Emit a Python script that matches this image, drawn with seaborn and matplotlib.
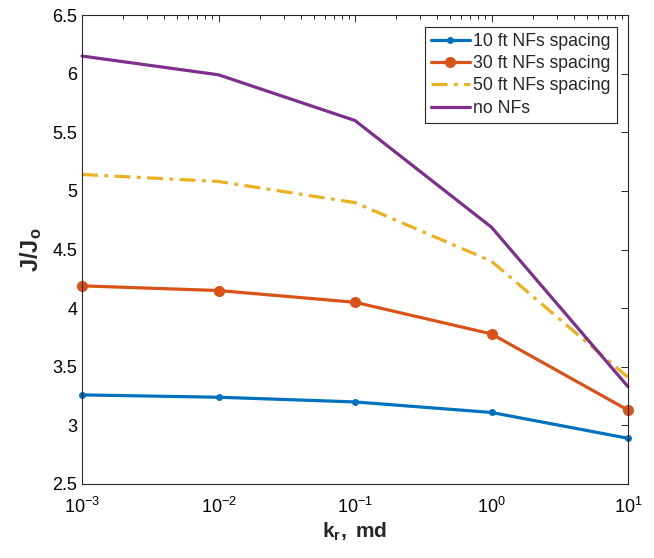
import numpy as np
import pandas as pd
import matplotlib
matplotlib.use("Agg")
import matplotlib.pyplot as plt
import seaborn as sns
from matplotlib.ticker import LogLocator, NullFormatter, FixedLocator

# ---- data ----
kr = [1e-3, 1e-2, 1e-1, 1e0, 1e1]
series_names = ["10 ft NFs spacing", "30 ft NFs spacing", "50 ft NFs spacing", "no NFs"]
ratio_10ft = [3.26, 3.24, 3.20, 3.11, 2.89]
ratio_30ft = [4.19, 4.15, 4.05, 3.78, 3.13]
ratio_50ft = [5.14, 5.08, 4.90, 4.40, 3.41]
ratio_noNF = [6.15, 5.99, 5.60, 4.69, 3.33]
y_ticks = [2.5, 3, 3.5, 4, 4.5, 5, 5.5, 6, 6.5]
y_ticklabels = ["2.5", "3", "3.5", "4", "4.5", "5", "5.5", "6", "6.5"]

sns.set_style("white")
plt.rcParams["font.family"] = ["Liberation Sans", "DejaVu Sans"]
plt.rcParams["mathtext.fontset"] = "custom"
plt.rcParams["mathtext.rm"] = "Liberation Sans"
plt.rcParams["mathtext.bf"] = "Liberation Sans:bold"
plt.rcParams["mathtext.it"] = "Liberation Sans:italic"

fig = plt.figure(figsize=(6.54, 5.58), dpi=100)
ax = fig.add_axes([82/654, 1-484/558, (628-82)/654, (484-15)/558])

colors = ["#0072BD", "#D95319", "#EDB120", "#7E2F8E"]
styles = [
    dict(marker="o", markersize=5, linestyle="-"),
    dict(marker="o", markersize=8, linestyle="-"),
    dict(marker=None, linestyle=(0, (5, 2, 1.2, 2))),
    dict(marker=None, linestyle="-"),
]
all_y = [ratio_10ft, ratio_30ft, ratio_50ft, ratio_noNF]
for name, yv, c, st in zip(series_names, all_y, colors, styles):
    df = pd.DataFrame({"kr": kr, "J": yv})
    sns.lineplot(data=df, x="kr", y="J", ax=ax, color=c, linewidth=2.3,
                 label=name, markeredgewidth=0, clip_on=False, **st)

ax.set_xscale("log")
ax.set_xlim(1e-3, 1e1)
ax.set_ylim(2.5, 6.5)
ax.yaxis.set_major_locator(FixedLocator(y_ticks))
ax.set_yticklabels(y_ticklabels)
ax.xaxis.set_major_locator(LogLocator(base=10, numticks=10))
ax.xaxis.set_minor_locator(LogLocator(base=10, subs=np.arange(2, 10), numticks=20))
ax.xaxis.set_minor_formatter(NullFormatter())

for s in ax.spines.values():
    s.set_color("#262626")
    s.set_linewidth(0.8)
ax.tick_params(which="both", direction="in", top=True, right=True, colors="#262626",
               labelcolor="black", labelsize=13, width=0.7)
ax.tick_params(which="major", length=5)
ax.tick_params(which="minor", length=3)
ax.tick_params(axis="x", pad=9)

ax.set_xlabel(r"$\mathbf{k_r,\ md}$", fontsize=15, labelpad=3)
ax.set_ylabel(r"$\mathbf{J/J_o}$", fontsize=17, labelpad=6)

leg = ax.legend(loc="upper right", bbox_to_anchor=(0.98, 0.975), fontsize=12.7,
                frameon=True, fancybox=False, framealpha=1, edgecolor="#262626",
                handlelength=2.2, handletextpad=0.2, borderpad=0.35, labelspacing=0.3,
                borderaxespad=0)
leg.get_frame().set_linewidth(0.8)

fig.savefig("out.png", dpi=100)
